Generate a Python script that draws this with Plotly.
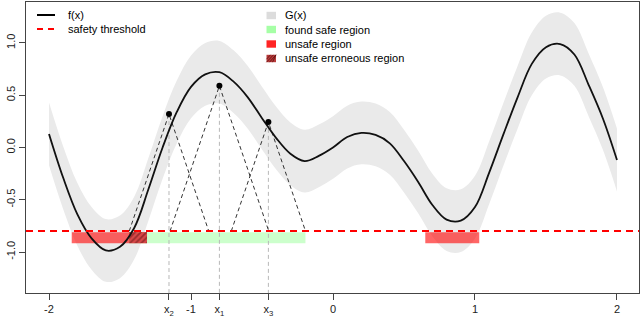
import plotly.graph_objects as go

# ---------------- data ----------------
x_grid = [-2.0, -1.9, -1.8, -1.7, -1.6, -1.5, -1.4, -1.3, -1.2, -1.1, -1.0,
          -0.9, -0.8, -0.7, -0.6, -0.5, -0.4, -0.3, -0.2, -0.1, 0.0,
          0.1, 0.2, 0.3, 0.4, 0.5, 0.6, 0.7, 0.8, 0.9, 1.0,
          1.1, 1.2, 1.3, 1.4, 1.5, 1.6, 1.7, 1.8, 1.9, 2.0]
f_vals = [0.13, -0.29, -0.64, -0.87, -0.985, -0.95, -0.77, -0.40, 0.00, 0.34, 0.58,
          0.70, 0.72, 0.63, 0.48, 0.28, 0.09, -0.06, -0.13, -0.08, 0.00,
          0.10, 0.14, 0.12, 0.04, -0.13, -0.33, -0.55, -0.69, -0.70, -0.57,
          -0.24, 0.125, 0.48, 0.80, 0.96, 0.99, 0.89, 0.60, 0.28, -0.12]
g_halfwidth = 0.30            # half width of the G(x) band

obs_x = [-1.155, -0.80, -0.455]   # x2, x1, x3
obs_y = [0.32, 0.59, 0.245]
lipschitz = 4.0
threshold = -0.8

safe_region = [(-1.435, -0.194)]
unsafe_regions = [(-1.84, -1.31), (0.65, 1.03)]
erroneous_regions = [(-1.435, -1.31)]

xtick_vals = [-2, obs_x[0], -1, obs_x[1], obs_x[2], 0, 1, 2]
xtick_text = ["-2", "x<sub>2</sub>", "-1", "x<sub>1</sub>", "x<sub>3</sub>", "0", "1", "2"]
ytick_vals = [-1.0, -0.5, 0.0, 0.5, 1.0]
ytick_text = ["-1.0", "-0.5", "0.0", "0.5", "1.0"]

# ---------------- layout constants ----------------
XRANGE = [-2.162, 2.155]
YRANGE = [-1.392, 1.392]
BAR_TOP, BAR_BOT = -0.81, -0.915
FONT = "Liberation Sans, Arial, sans-serif"
W, H = 640, 317
ML, MR, MT, MB = 26, 1, 2, 24
PW, PH = W - ML - MR, H - MT - MB


def px(x):
    return (x - ML) / PW


def py(y):
    return (H - MB - y) / PH


fig = go.Figure()

# G(x) band
lower = [v - g_halfwidth for v in f_vals]
upper = [v + g_halfwidth for v in f_vals]
fig.add_trace(go.Scatter(x=x_grid, y=lower, mode="lines", line=dict(width=0, shape="spline"),
                         hoverinfo="skip", showlegend=False))
fig.add_trace(go.Scatter(x=x_grid, y=upper, mode="lines", line=dict(width=0, shape="spline"),
                         fill="tonexty", fillcolor="#EAEAEA", hoverinfo="skip", showlegend=False))


def rect_trace(a, b, **kw):
    return go.Scatter(x=[a, b, b, a, a], y=[BAR_TOP, BAR_TOP, BAR_BOT, BAR_BOT, BAR_TOP],
                      mode="lines", line=dict(width=0), fill="toself",
                      hoverinfo="skip", showlegend=False, **kw)


for a, b in unsafe_regions:
    fig.add_trace(rect_trace(a, b, fillcolor="rgba(255,0,0,0.6)"))
for a, b in safe_region:
    fig.add_trace(rect_trace(a, b, fillcolor="rgba(0,255,0,0.2)"))
for a, b in erroneous_regions:
    fig.add_trace(rect_trace(a, b, fillcolor="rgba(200,40,40,0.9)",
                             fillpattern=dict(shape="/", fgcolor="#5a1010", bgcolor="#d84848",
                                              size=4, solidity=0.45)))

# vertical grey lines from observations to the bottom
for xo, yo in zip(obs_x, obs_y):
    fig.add_trace(go.Scatter(x=[xo, xo], y=[yo, YRANGE[0]], mode="lines",
                             line=dict(color="#B8B8B8", width=1, dash="4px,3px"),
                             hoverinfo="skip", showlegend=False))

# Lipschitz cones
for xo, yo in zip(obs_x, obs_y):
    hw = (yo - threshold) / lipschitz
    fig.add_trace(go.Scatter(x=[xo - hw, xo, xo + hw], y=[threshold, yo, threshold], mode="lines",
                             line=dict(color="#333333", width=1, dash="4px,3px"),
                             hoverinfo="skip", showlegend=False))

# f(x)
fig.add_trace(go.Scatter(x=x_grid, y=f_vals, mode="lines",
                         line=dict(color="#111111", width=1.8, shape="spline"),
                         hoverinfo="skip", showlegend=False))

# observations
fig.add_trace(go.Scatter(x=obs_x, y=obs_y, mode="markers",
                         marker=dict(color="black", size=6), hoverinfo="skip", showlegend=False))

shapes = [
    dict(type="line", xref="paper", yref="y", x0=0, x1=1, y0=threshold, y1=threshold,
         line=dict(color="#FF0000", width=2, dash="7px,5px")),
    # legend swatches
    dict(type="line", xref="paper", yref="paper", x0=px(37), x1=px(55), y0=py(15), y1=py(15),
         line=dict(color="black", width=2)),
    dict(type="line", xref="paper", yref="paper", x0=px(37), x1=px(55), y0=py(29), y1=py(29),
         line=dict(color="#FF0000", width=2, dash="6px,5px")),
]
legend_right = [("G(x)", "#DCDCDC", 15.5), ("found safe region", "#A6FFA6", 29.5),
                ("unsafe region", "#FF2424", 44), ("unsafe erroneous region", "#B83A3A", 58.5)]
for label, col, yc in legend_right:
    shapes.append(dict(type="rect", xref="paper", yref="paper", x0=px(266.5), x1=px(276),
                       y0=py(yc - 3.7), y1=py(yc + 3.7), fillcolor=col, line=dict(width=0)))
# hatch strokes on the erroneous swatch
for k in range(4):
    x0 = 266.5 + k * 3
    shapes.append(dict(type="line", xref="paper", yref="paper",
                       x0=px(max(266.5, x0 - 3)), y0=py(58.5 + 3.7 - max(0, 266.5 - (x0 - 3))),
                       x1=px(min(276, x0 + 4)), y1=py(58.5 - 3.7),
                       line=dict(color="#5a1010", width=0.8)))

annotations = []
for label, yc in [("f(x)", 15), ("safety threshold", 29)]:
    annotations.append(dict(text=label, xref="paper", yref="paper", x=px(66), y=py(yc),
                            xanchor="left", yanchor="middle", showarrow=False,
                            font=dict(size=11, color="black", family=FONT)))
for label, col, yc in legend_right:
    annotations.append(dict(text=label, xref="paper", yref="paper", x=px(283), y=py(yc),
                            xanchor="left", yanchor="middle", showarrow=False,
                            font=dict(size=11, color="black", family=FONT)))

fig.update_layout(
    width=W, height=H,
    margin=dict(l=ML, r=MR, t=MT, b=MB, autoexpand=False),
    paper_bgcolor="white", plot_bgcolor="white",
    font=dict(family=FONT, size=11, color="black"),
    showlegend=False,
    shapes=shapes, annotations=annotations,
    xaxis=dict(range=XRANGE, tickmode="array", tickvals=xtick_vals, ticktext=xtick_text,
               showgrid=False, zeroline=False, showline=True, mirror=True,
               linecolor="#444444", linewidth=1, ticks="outside", ticklen=6,
               tickcolor="#444444", tickfont=dict(size=11, color="#222222")),
    yaxis=dict(range=YRANGE, tickmode="array", tickvals=ytick_vals, ticktext=ytick_text,
               showgrid=False, zeroline=False, showline=True, mirror=True,
               linecolor="#444444", linewidth=1, ticks="outside", ticklen=6,
               tickcolor="#444444", tickangle=-90, tickfont=dict(size=11, color="#222222")),
)

fig.write_html("out.html", config={"displayModeBar": False},
               post_script="document.body.style.margin='0px';document.body.style.overflow='hidden';")
